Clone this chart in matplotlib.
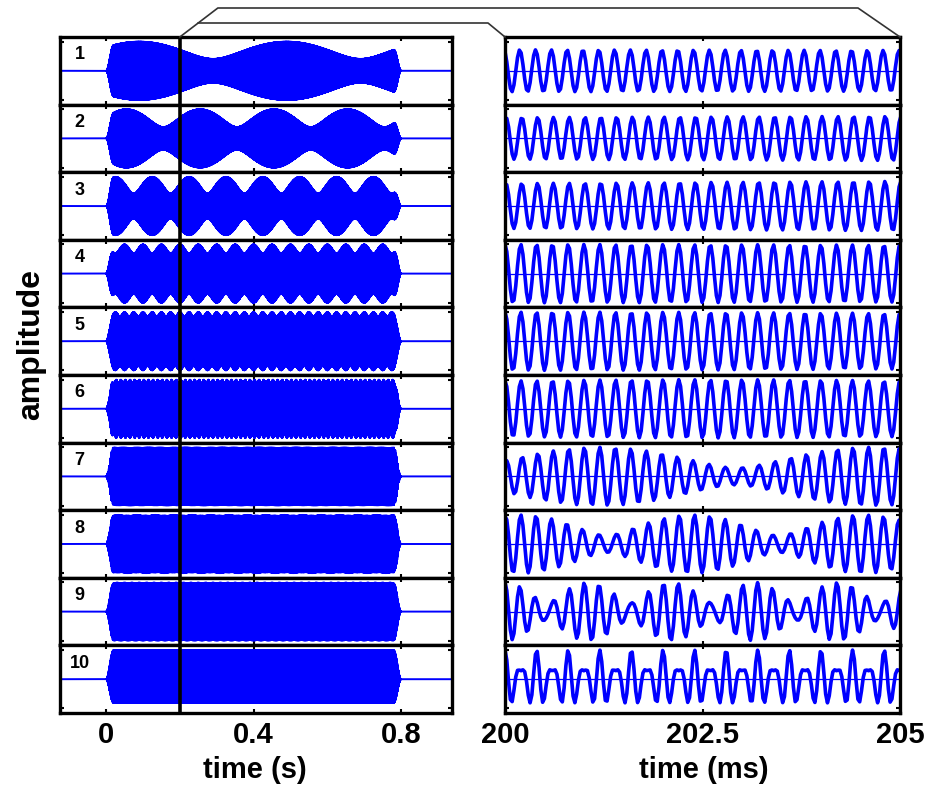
"""
Beating of two tones: 10 rows, full stimulus on the left (seconds) and a
5 ms window around t = 200 ms on the right (milliseconds).
"""
import numpy as np
import matplotlib.pyplot as plt
from matplotlib.lines import Line2D

plt.rcParams["font.family"] = ["Liberation Sans", "DejaVu Sans"]
plt.rcParams["agg.path.chunksize"] = 20000

# ---- values ----
row_labels = ["1", "2", "3", "4", "5", "6", "7", "8", "9", "10"]
carrier_hz = 5000.0                                   # ~25 cycles in 5 ms
beat_hz = [2.5, 5, 10, 20, 40, 80, 290, 460, 950, 2500]
peak_time_s = [0.09, 0.255, 0.225, 0.2, 0.2, 0.2025, 0.2012, 0.2002, 0.2, 0.2]
second_amp = [0.42, 0.44, 0.40, 0.18, 0.08, 0.08, 0.55, 0.55, 0.55, 0.55]
tone_on_s, tone_off_s, ramp_s = 0.0, 0.8, 0.02
zoom_at_s = 0.2
zoom_window_ms = [200.0, 205.0]
left_ticks = [0, 0.4, 0.8]
left_ticklabels = ["0", "0.4", "0.8"]
right_ticks = [200, 202.5, 205]
right_ticklabels = ["200", "202.5", "205"]

FS = 44100
LEFT_XLIM = (-0.125, 0.938)
YLIM = (-1.16, 1.16)
BLUE = "#0000ff"


def tone_pair(t, df, t_peak, a2):
    """Two tones (carrier and carrier+df), gated with raised-cosine ramps."""
    phi = -2 * np.pi * df * t_peak
    y = np.cos(2 * np.pi * carrier_hz * t) + a2 * np.cos(2 * np.pi * (carrier_hz + df) * t + phi)
    y = y / (1 + a2)
    gate = np.zeros_like(t)
    on = (t >= tone_on_s) & (t <= tone_off_s)
    gate[on] = 1.0
    r1 = (t >= tone_on_s) & (t < tone_on_s + ramp_s)
    gate[r1] = 0.5 - 0.5 * np.cos(np.pi * (t[r1] - tone_on_s) / ramp_s)
    r2 = (t > tone_off_s - ramp_s) & (t <= tone_off_s)
    gate[r2] = 0.5 - 0.5 * np.cos(np.pi * (tone_off_s - t[r2]) / ramp_s)
    return y * gate


W, H = 928, 788
fig = plt.figure(figsize=(W / 100, H / 100), dpi=100)

L_x0, L_w = 60 / W, 392 / W
R_x0, R_w = 505 / W, 395 / W
top, bot = 1 - 37 / H, 1 - 713 / H
rh = (top - bot) / len(row_labels)

t_left = np.arange(LEFT_XLIM[0], LEFT_XLIM[1], 1 / FS)
t_right = np.arange(zoom_window_ms[0] / 1000, zoom_window_ms[1] / 1000 + 1 / FS, 1 / FS)

left_axes, right_axes = [], []
for i, lab in enumerate(row_labels):
    y0 = top - (i + 1) * rh
    axl = fig.add_axes([L_x0, y0, L_w, rh])
    axr = fig.add_axes([R_x0, y0, R_w, rh])
    left_axes.append(axl)
    right_axes.append(axr)

    axl.plot(t_left, tone_pair(t_left, beat_hz[i], peak_time_s[i], second_amp[i]),
             color=BLUE, lw=1.4)
    axl.axvline(zoom_at_s, color="black", lw=2.6, zorder=5)
    axl.set_xlim(*LEFT_XLIM)
    axl.text(0.05, 0.86, lab, transform=axl.transAxes, ha="center", va="top",
             fontsize=13, fontweight="bold")

    axr.axhline(0, color=BLUE, lw=0.9)
    axr.plot(t_right * 1000, tone_pair(t_right, beat_hz[i], peak_time_s[i], second_amp[i]),
             color=BLUE, lw=2.6)
    axr.set_xlim(*zoom_window_ms)

    for ax, ticks, labels in ((axl, left_ticks, left_ticklabels),
                              (axr, right_ticks, right_ticklabels)):
        ax.set_ylim(*YLIM)
        ax.set_xticks(ticks)
        ax.set_yticks([-1, 1])
        ax.set_yticklabels([])
        ax.tick_params(direction="in", length=3, width=1.5, top=True, right=True,
                       labelbottom=(i == len(row_labels) - 1), pad=6,
                       labelsize=21)
        if i == len(row_labels) - 1:
            ax.set_xticklabels(labels, fontweight="bold")
        for sp in ax.spines.values():
            sp.set_linewidth(2.4)

fig.text(255 / W, 1 - 770 / H, "time (s)", ha="center", va="center",
         fontsize=21, fontweight="bold")
fig.text(704 / W, 1 - 770 / H, "time (ms)", ha="center", va="center",
         fontsize=21, fontweight="bold")
fig.text(31 / W, 1 - 344 / H, "amplitude", ha="center", va="center",
         rotation=90, fontsize=23, fontweight="bold")

# zoom connector from the 200 ms marker to the right-hand panel
fig.canvas.draw()
inv = fig.transFigure.inverted()
xs, ys = inv.transform(left_axes[0].transData.transform((zoom_at_s, YLIM[1])))
y_hi, y_lo = 1 - 8 / H, 1 - 23 / H
dx = 38 / W
x_mid = xs + dx * (ys - y_lo) / (ys - y_hi)
R_x1 = R_x0 + R_w
fig.add_artist(Line2D([xs, xs + dx, R_x1 - 42 / W, R_x1], [ys, y_hi, y_hi, ys],
                      transform=fig.transFigure, color="#333333", lw=1.2))
fig.add_artist(Line2D([x_mid, R_x0 - 17 / W, R_x0], [y_lo, y_lo, ys],
                      transform=fig.transFigure, color="#333333", lw=1.2))

fig.savefig("out.png", dpi=100)
